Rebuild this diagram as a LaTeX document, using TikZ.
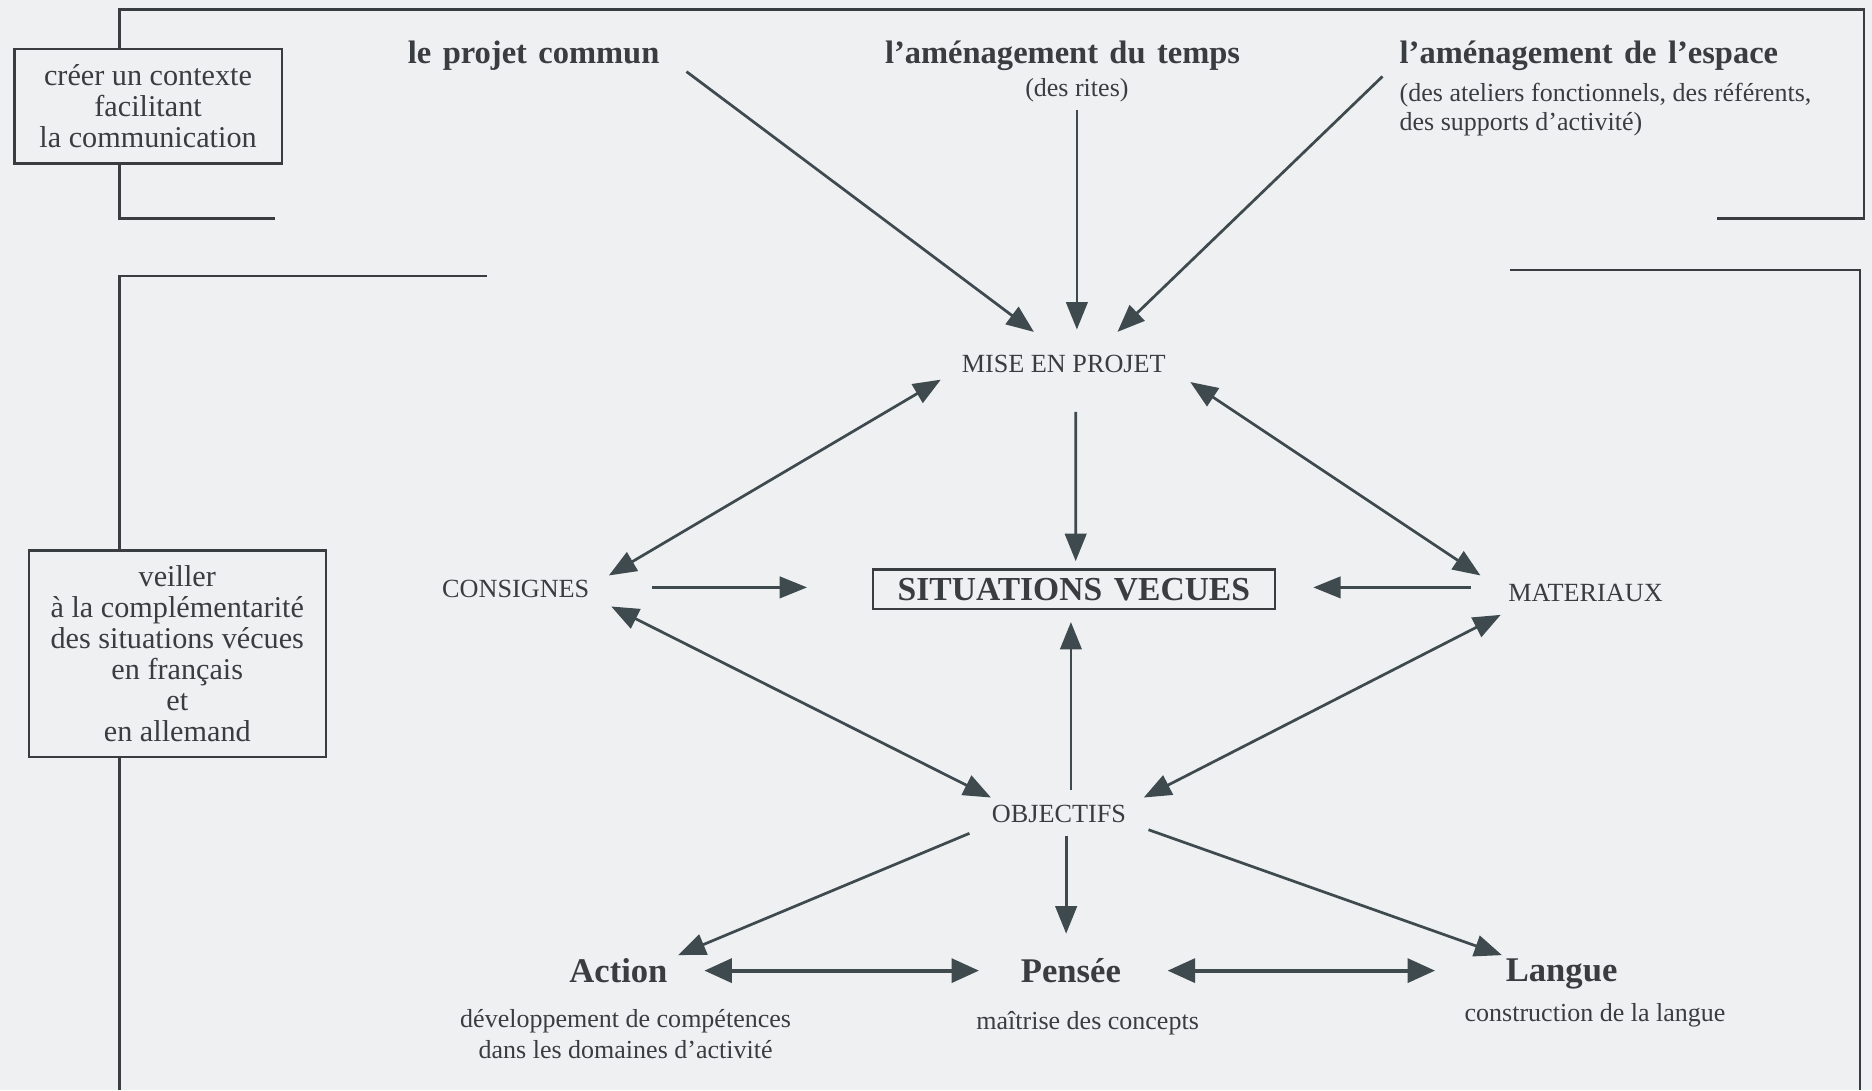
\documentclass[tikz,border=0pt]{standalone}
\usepackage{fontspec}
\setmainfont{Liberation Serif}
\usetikzlibrary{arrows.meta}
\definecolor{bgc}{HTML}{EEF0F2}
\definecolor{ink}{HTML}{3A3D40}
\definecolor{arrc}{HTML}{3E4A4E}
\newcommand{\wsp}{\hspace{0.35em}}
\begin{document}
\begin{tikzpicture}[x=0.02cm,y=-0.02cm,
  every node/.style={text=ink, inner sep=0pt},
  smalltxt/.style={font=\fontsize{12.4}{14.8}\selectfont, align=center},
  boxtxt/.style={font=\fontsize{14.4}{14.8}\selectfont, align=center},
  boxnode/.style={boxtxt, draw=ink, line width=1.1pt},
  ttl/.style={font=\fontsize{15.5}{17}\selectfont\bfseries},
  bigbold/.style={font=\fontsize{16.5}{18}\selectfont\bfseries},
  capstxt/.style={font=\fontsize{12.5}{14}\selectfont},
  framel/.style={draw=ink, line width=1.1pt},
  tip/.tip={Triangle[length=0.46cm,width=0.36cm]},
  tipb/.tip={Triangle[length=0.46cm,width=0.40cm]},
  conn/.style={draw=arrc, line width=1.3pt, -tip},
  twoway/.style={draw=arrc, line width=1.3pt, tip-tip},
  twowayb/.style={draw=arrc, line width=1.8pt, tipb-tipb},
]
\fill[bgc] (0,0) rectangle (1568,913);
\useasboundingbox (0,0) rectangle (1568,913);

% boxes on the left
\node[boxnode, minimum width=4.48cm, minimum height=1.92cm] (ctx) at (124,89)
  {créer un contexte\\facilitant\\la communication};
\node[boxnode, minimum width=4.98cm, minimum height=3.46cm] (comp) at (148.5,547.5)
  {veiller\\à la complémentarité\\des situations vécues\\en français\\et\\en allemand};

% frame lines
\coordinate (fl1) at (100,8);
\coordinate (fl2) at (100,183);
\coordinate (fl3) at (100,231);
\coordinate (fl4) at (100,913);
\draw[framel] (ctx.north -| fl1) -- (fl1) -- (1561,8) -- (1561,183) -- (1438,183);
\draw[framel] (ctx.south -| fl2) -- (fl2) -- (230,183);
\draw[framel] (408,231) -- (fl3) -- (comp.north -| fl3);
\draw[framel] (comp.south -| fl4) -- (fl4);
\draw[framel] (1265,226) -- (1558,226) -- (1558,913);

% top titles
\node[ttl] (commun) at (447,47) {le\wsp projet\wsp commun};
\node[ttl] (temps) at (890,47) {l'aménagement\wsp du\wsp temps};
\node[smalltxt] (rites) at (902,76) {(des rites)};
\node[ttl, anchor=west] (espace) at (1172,47) {l'aménagement\wsp de\wsp l'espace};
\node[font=\fontsize{12.4}{13.8}\selectfont, align=left, anchor=north west] (espd) at (1172,69)
  {(des ateliers fonctionnels, des référents,\\des supports d'activité)};

% central nodes
\node[capstxt] (mise) at (891,305) {MISE EN PROJET};
\node[capstxt] (cons) at (432,493) {CONSIGNES};
\node[draw=ink, line width=1.1pt, minimum width=6.74cm, minimum height=0.66cm,
      font=\fontsize{16}{18}\selectfont\bfseries] (sit) at (899.5,493.5) {SITUATIONS\wsp VECUES};
\node[capstxt] (mat) at (1328,497) {MATERIAUX};
\node[capstxt] (obj) at (887,682) {OBJECTIFS};

% bottom nodes
\node[bigbold] (act) at (518,813) {Action};
\node[bigbold] (pens) at (897,813) {Pensée};
\node[bigbold] (lang) at (1308,816) {Langue};
\node[smalltxt] (actd) at (524,866) {développement de compétences\\dans les domaines d'activité};
\node[smalltxt] (pensd) at (911,857) {maîtrise des concepts};
\node[smalltxt] (langd) at (1336,850) {construction de la langue};

% connectors
\draw[conn] ([shift={(128,13)}]commun.center) -- ([shift={(-25,-27)}]mise.center);
\draw[conn] ([shift={(0,16)}]rites.center) -- ([shift={(11,-29)}]mise.center);
\draw[conn] ([shift={(-14,17)}]espace.west) -- ([shift={(45,-27)}]mise.center);
\draw[twoway] ([shift={(-103,13)}]mise.center) -- ([shift={(78,-11)}]cons.center);
\draw[twoway] ([shift={(106,15)}]mise.center) -- ([shift={(-88,-15)}]mat.center);
\draw[conn] ([shift={(10,40)}]mise.center) -- ([shift={(1.5,-23.5)}]sit.center);
\draw[conn] ([shift={(114,-1)}]cons.center) -- ([shift={(-223.5,-1.5)}]sit.center);
\draw[conn] ([shift={(-96,-5)}]mat.center) -- ([shift={(200.5,-1.5)}]sit.center);
\draw[twoway] ([shift={(80,15)}]cons.center) -- ([shift={(-57,-14)}]obj.center);
\draw[twoway] ([shift={(-71,18)}]mat.center) -- ([shift={(71,-14)}]obj.center);
\draw[conn] ([shift={(10,-20)}]obj.center) -- ([shift={(-2.5,27.5)}]sit.center);
\draw[conn] ([shift={(-75,16)}]obj.center) -- ([shift={(50,-13)}]act.center);
\draw[conn] ([shift={(6,18)}]obj.center) -- ([shift={(-4,-31)}]pens.center);
\draw[conn] ([shift={(75,13)}]obj.center) -- ([shift={(-50,-16)}]lang.center);
\draw[twowayb] ([shift={(72,0)}]act.center) -- ([shift={(-77,0)}]pens.center);
\draw[twowayb] ([shift={(81,0)}]pens.center) -- ([shift={(-106,-3)}]lang.center);
\end{tikzpicture}
\end{document}
